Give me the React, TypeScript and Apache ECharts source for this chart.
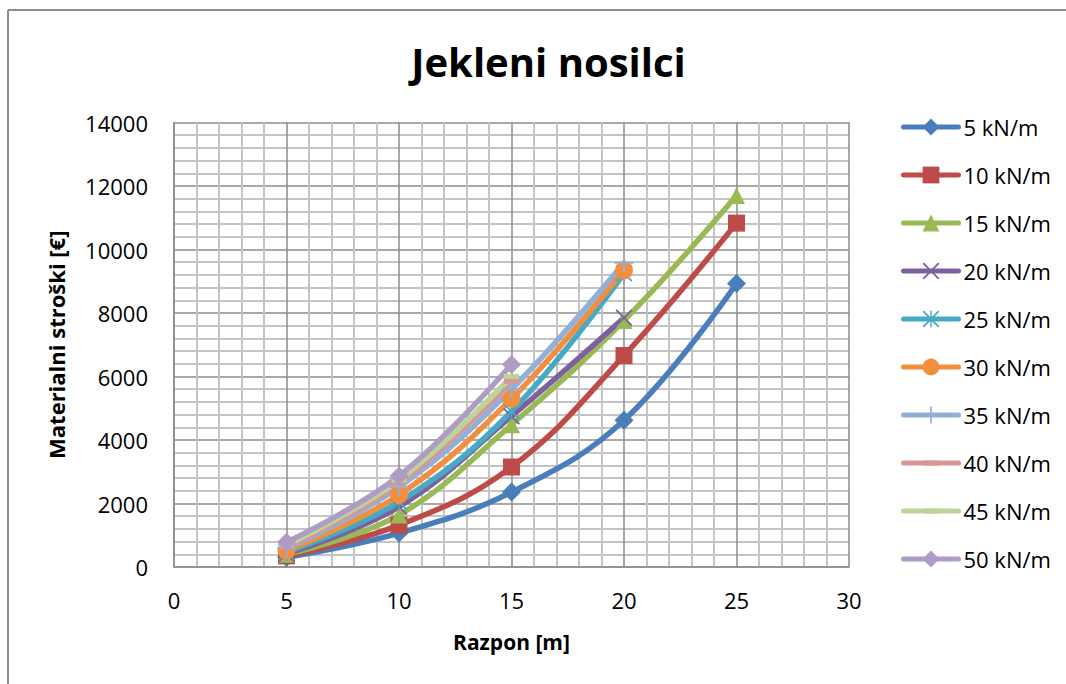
import React, { useEffect, useRef } from "react";
import * as echarts from "echarts";

// Span [m] and material cost [€] per distributed load
const loads = ["5 kN/m", "10 kN/m", "15 kN/m", "20 kN/m", "25 kN/m", "30 kN/m", "35 kN/m", "40 kN/m", "45 kN/m", "50 kN/m"];

const spans = [5, 10, 15, 20, 25];

const cost5 = [300, 1070, 2360, 4620, 8930];
const cost10 = [350, 1320, 3150, 6660, 10830];
const cost15 = [400, 1640, 4480, 7760, 11700];
const cost20 = [420, 1900, 4750, 7850];
const cost25 = [470, 2050, 4900, 9250];
const cost30 = [520, 2270, 5300, 9350];
const cost35 = [580, 2520, 5600, 9580];
const cost40 = [640, 2640, 5850];
const cost45 = [700, 2740, 6000];
const cost50 = [780, 2870, 6380];

const yTicks = [0, 2000, 4000, 6000, 8000, 10000, 12000, 14000];
const xTicks = [0, 5, 10, 15, 20, 25, 30];

const costs = [cost5, cost10, cost15, cost20, cost25, cost30, cost35, cost40, cost45, cost50];

const colors = ["#4A7EBB", "#BE4B48", "#98B954", "#7D60A0", "#46AAC5", "#F28F3E", "#92AFD8", "#D99694", "#BCD39A", "#AE9CC4"];

// Marker shapes: thin cross, asterisk, plus and a short bar
const SYM_X = "path://M0,1.5L1.5,0L10,8.5L18.5,0L20,1.5L11.5,10L20,18.5L18.5,20L10,11.5L1.5,20L0,18.5L8.5,10Z";
const SYM_STAR =
  "path://M0,1.5L1.5,0L10,8.5L18.5,0L20,1.5L11.5,10L20,18.5L18.5,20L10,11.5L1.5,20L0,18.5L8.5,10Z M9.2,0L10.8,0L10.8,20L9.2,20Z";
const SYM_PLUS = "path://M9,0H11V9H20V11H11V20H9V11H0V9H9Z";
const SYM_DASH = "path://M0,0M20,20M1,7H19V13H1Z";

const symbols = ["diamond", "rect", "triangle", SYM_X, SYM_STAR, "circle", SYM_PLUS, SYM_DASH, SYM_DASH, "diamond"];
const symbolSizes = [19, 17, 17, 17, 17, 18, 19, 17, 17, 19];

const FONT = "'Open Sans', 'Noto Sans', sans-serif";
const LINE_W = 5.5;

export default function App() {
  const ref = useRef<HTMLDivElement>(null);

  useEffect(() => {
    if (!ref.current) return;
    const chart = echarts.init(ref.current, undefined, { renderer: "svg" });

    const series = loads.map((name, i) => ({
      name,
      type: "line",
      data: costs[i].map((v, j) => [spans[j], v]),
      smooth: 0.4,
      symbol: symbols[i],
      symbolSize: symbolSizes[i],
      showAllSymbol: true,
      color: colors[i],
      lineStyle: { width: LINE_W, color: colors[i], cap: "round", join: "round" },
      itemStyle: { color: colors[i] },
      emphasis: { disabled: true },
    }));

    chart.setOption({
      animation: false,
      backgroundColor: "#ffffff",
      title: {
        text: "Jekleni nosilci",
        left: 543.5,
        top: 36,
        textAlign: "center",
        textStyle: { fontFamily: FONT, fontWeight: "bold", fontSize: 40, color: "#000" },
      },
      graphic: [
        { type: "line", shape: { x1: 8, y1: 10, x2: 1066, y2: 10 }, style: { stroke: "#8c8c8c", lineWidth: 2 } },
        { type: "line", shape: { x1: 8, y1: 10, x2: 8, y2: 684 }, style: { stroke: "#8c8c8c", lineWidth: 2 } },
      ],
      grid: { left: 174, top: 122.5, width: 675, height: 444.5, containLabel: false },
      legend: {
        orient: "vertical",
        left: 901,
        top: 116,
        padding: 0,
        itemWidth: 55,
        itemHeight: 21,
        itemGap: 26,
        lineStyle: { width: 5, cap: "round" },
        textStyle: { fontFamily: FONT, fontSize: 22, color: "#000", lineHeight: 21 },
        data: loads,
      },
      xAxis: {
        type: "value",
        min: xTicks[0],
        max: xTicks[xTicks.length - 1],
        interval: 5,
        name: "Razpon [m]",
        nameLocation: "middle",
        nameGap: 64,
        nameTextStyle: { fontFamily: FONT, fontWeight: "bold", fontSize: 21, color: "#000" },
        axisLine: { show: true, lineStyle: { color: "#8c8c8c", width: 1.5 } },
        axisTick: { show: false },
        axisLabel: { fontFamily: FONT, fontSize: 22, color: "#000", margin: 22 },
        splitLine: { show: true, lineStyle: { color: "#8c8c8c", width: 1.5 } },
        minorTick: { show: false, splitNumber: 5 },
        minorSplitLine: { show: true, lineStyle: { color: "#c4c4c4", width: 2 } },
      },
      yAxis: {
        type: "value",
        min: yTicks[0],
        max: yTicks[yTicks.length - 1],
        interval: 2000,
        name: "Materialni stroški [€]",
        nameLocation: "middle",
        nameGap: 107,
        nameTextStyle: { fontFamily: FONT, fontWeight: "bold", fontSize: 22, color: "#000" },
        axisLine: { show: true, lineStyle: { color: "#8c8c8c", width: 1.5 } },
        axisTick: { show: false },
        axisLabel: {
          fontFamily: FONT,
          fontSize: 22,
          color: "#000",
          margin: 26,
          formatter: (v: number) => String(v),
        },
        splitLine: { show: true, lineStyle: { color: "#8c8c8c", width: 1.5 } },
        minorTick: { show: false, splitNumber: 5 },
        minorSplitLine: { show: true, lineStyle: { color: "#c4c4c4", width: 2 } },
      },
      series,
    });

    return () => chart.dispose();
  }, []);

  return (
    <div
      ref={ref}
      style={{ position: "absolute", left: 0, top: 0, width: 1066, height: 684, background: "#fff" }}
    />
  );
}
